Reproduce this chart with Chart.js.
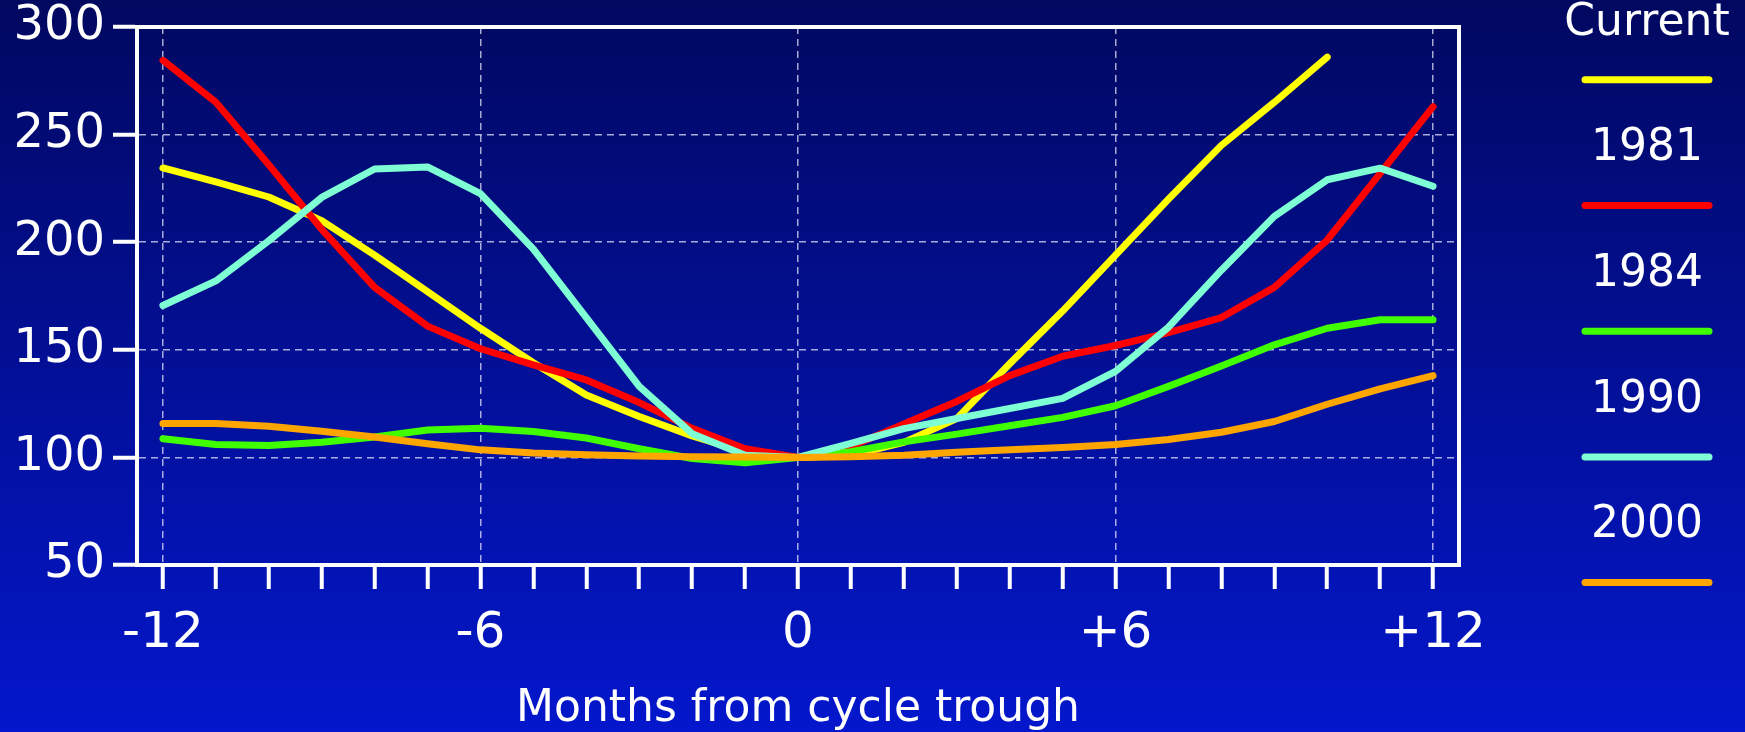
<!DOCTYPE html>
<html>
<head>
<meta charset="utf-8">
<script src="https://cdn.jsdelivr.net/npm/chart.js@4.4.1/dist/chart.umd.min.js"></script>
<style>
  html, body { margin: 0; padding: 0; background: #020c80; }
  #wrap { width: 1745px; height: 732px; position: relative; }
</style>
</head>
<body>
<div id="wrap"><canvas id="myChart"></canvas></div>
<script>
// months from the cycle trough
const months = [-12,-11,-10,-9,-8,-7,-6,-5,-4,-3,-2,-1,0,1,2,3,4,5,6,7,8,9,10,11,12];

const seriesNames = ["Current", "1981", "1984", "1990", "2000"];

const current = [234.5,228,221,210,194,177,160,144,129,119,110,102.5,100,101,107,118,143.5,168,194,220,245,265,286,null,null];
const y1981   = [284.5,265,236,206,179,161,150.5,143,136,125.5,113.5,104,100,105,115.5,126,138,147,152,158,165,179,201,232,263];
const y1984   = [108.7,106,105.5,107,109.5,112.7,113.5,112,109,104,99.5,97.5,100,102.6,107.2,110.8,114.7,118.6,124,133,142.5,152.3,160,164,164];
const y1990   = [170.6,182,200.7,220.8,234,235,222.6,196.8,165,133,111,101,100,106.5,113.4,118.1,122.7,127.4,140,160.5,187,212,229,234.4,226];
const y2000   = [115.8,115.8,114.5,112.2,109.5,106.3,103.5,102,101.2,100.6,100.3,100.2,100,100.3,101,102.4,103.6,104.6,106,108.3,111.7,116.7,124.7,131.8,138];

const yTicks = [50, 100, 150, 200, 250, 300];

document.addEventListener("DOMContentLoaded", function () {
  const canvas = document.getElementById("myChart");
  const ctx = canvas.getContext("2d");

  Chart.defaults.font.family = '"DejaVu Sans", Verdana, sans-serif';
  Chart.defaults.color = "#ffffff";

  const toPoints = (vals) => months.map((m, i) => ({ x: m, y: vals[i] }));
  const gridColor = "rgba(225,225,250,0.75)";

  // blue gradient behind everything
  const backdrop = {
    id: "backdrop",
    beforeDraw(chart) {
      const c = chart.ctx;
      const g = c.createLinearGradient(0, 0, 0, chart.height);
      g.addColorStop(0, "#010860");
      g.addColorStop(1, "#0417cc");
      c.save();
      c.fillStyle = g;
      c.fillRect(0, 0, chart.width, chart.height);
      c.restore();
    }
  };

  // top and right sides of the plot frame
  const frame = {
    id: "frame",
    afterDatasetsDraw(chart) {
      const a = chart.chartArea;
      const c = chart.ctx;
      c.save();
      c.strokeStyle = "#ffffff";
      c.lineWidth = 4;
      c.beginPath();
      c.moveTo(a.left, a.top);
      c.lineTo(a.right, a.top);
      c.lineTo(a.right, a.bottom + 2);
      c.stroke();
      c.restore();
    }
  };

  // legend on the right: label above a line sample
  const sideLegend = {
    id: "sideLegend",
    afterDraw(chart) {
      const c = chart.ctx;
      const cx = chart.chartArea.right + 188;
      c.save();
      c.font = '44px "DejaVu Sans"';
      c.fillStyle = "#ffffff";
      c.textAlign = "center";
      c.textBaseline = "alphabetic";
      chart.data.datasets.forEach((ds, i) => {
        const base = 34.5 + i * 125.7;
        c.fillText(ds.label, cx, base);
        c.strokeStyle = ds.borderColor;
        c.lineWidth = 7;
        c.lineCap = "round";
        c.beginPath();
        c.moveTo(cx - 62, base + 45.3);
        c.lineTo(cx + 62, base + 45.3);
        c.stroke();
      });
      c.restore();
    }
  };

  const colors = ["#ffff00", "#ff0000", "#40ff00", "#7fffd4", "#ffa500"];
  const values = [current, y1981, y1984, y1990, y2000];

  new Chart(ctx, {
    type: "line",
    data: {
      datasets: seriesNames.map((name, i) => ({
        label: name,
        data: toPoints(values[i]),
        borderColor: colors[i],
        borderWidth: 7,
        borderCapStyle: "round",
        borderJoinStyle: "round",
        pointRadius: 0,
        tension: 0,
        fill: false,
        order: seriesNames.length - 1 - i
      }))
    },
    plugins: [backdrop, frame, sideLegend],
    options: {
      responsive: true,
      maintainAspectRatio: false,
      animation: false,
      layout: { padding: { top: 27, right: 286, bottom: 0, left: 0 } },
      plugins: {
        legend: { display: false },
        tooltip: { enabled: false }
      },
      scales: {
        x: {
          type: "linear",
          min: -12.49,
          max: 12.49,
          afterFit: (s) => {
            s.height = 167;
            s.paddingLeft = 0;
            s.paddingRight = 0;
          },
          border: { color: "#ffffff", width: 4, dash: [7, 5] },
          grid: {
            color: (c) => (c.tick && c.tick.value % 6 === 0 ? gridColor : "rgba(0,0,0,0)"),
            lineWidth: 1.5,
            tickLength: 24,
            tickWidth: 4,
            tickColor: "#ffffff"
          },
          ticks: {
            stepSize: 1,
            includeBounds: false,
            autoSkip: false,
            maxRotation: 0,
            padding: 15,
            color: "#ffffff",
            font: { size: 50 },
            callback: (v) => (v % 6 === 0 ? (v > 0 ? "+" + v : String(v)) : "")
          },
          title: {
            display: true,
            text: "Months from cycle trough",
            color: "#ffffff",
            font: { size: 44 },
            padding: { top: 0, bottom: -4 }
          }
        },
        y: {
          min: yTicks[0],
          max: yTicks[yTicks.length - 1],
          afterFit: (s) => {
            s.width = 137;
            s.paddingTop = 0;
            s.paddingBottom = 0;
          },
          afterBuildTicks: (s) => { s.ticks = yTicks.map((v) => ({ value: v })); },
          border: { color: "#ffffff", width: 4, dash: [7, 5] },
          grid: {
            color: gridColor,
            lineWidth: 1.5,
            tickLength: 24,
            tickWidth: 4,
            tickColor: "#ffffff"
          },
          ticks: {
            padding: 8,
            color: "#ffffff",
            font: { size: 48, lineHeight: 1 }
          }
        }
      }
    }
  });
});
</script>
</body>
</html>
